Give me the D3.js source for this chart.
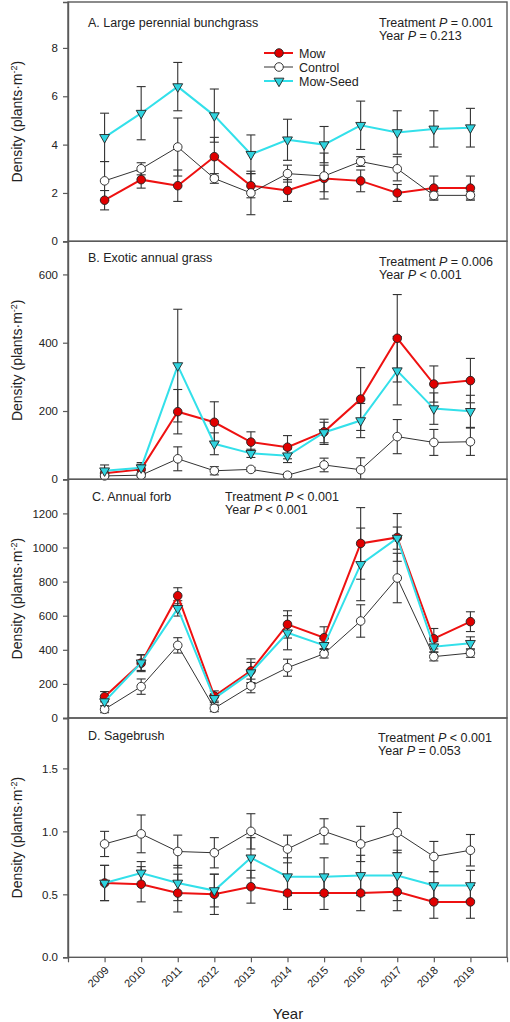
<!DOCTYPE html>
<html><head><meta charset="utf-8">
<script src="https://cdn.jsdelivr.net/npm/d3@7"></script>
<style>body{margin:0;background:#fff}svg{display:block;font-family:"Liberation Sans",Arial,sans-serif}</style>
</head><body><svg id="c" width="510" height="1022"></svg>
<script>
const years = [2009,2010,2011,2012,2013,2014,2015,2016,2017,2018,2019];
const yearTicks = [2008,2009,2010,2011,2012,2013,2014,2015,2016,2017,2018,2019,2020];
const seriesNames = ["Mow","Control","Mow-Seed"];

// Panel A: Large perennial bunchgrass
const aMow = [1.7,2.55,2.3,3.5,2.3,2.1,2.6,2.5,2.0,2.2,2.2];
const aMowSE = [0.4,0.35,0.65,0.8,0.5,0.45,0.55,0.45,0.35,0.5,0.5];
const aCtl = [2.5,3.0,3.9,2.6,2.0,2.8,2.7,3.3,3.0,1.9,1.9];
const aCtlSE = [0.8,0.25,1.2,0.2,0.9,0.35,0.95,0.2,0.5,0.15,0.15];
const aMS = [4.3,5.3,6.4,5.2,3.6,4.2,4.0,4.8,4.5,4.65,4.7];
const aMSSE = [1.0,1.1,1.0,1.1,0.8,0.85,0.75,1.0,0.9,0.75,0.8];
const aTicks = [0,2,4,6,8];

// Panel B: Exotic annual grass
const bMow = [18,29,198,167,109,94,139,235,413,279,289];
const bMowSE = [10,15,65,60,30,34,37,92,128,53,65];
const bCtl = [10,12,60,25,29,12,42,28,125,108,110];
const bCtlSE = [5,5,35,12,6,5,20,35,50,38,40];
const bMS = [25,34,333,104,76,69,137,172,318,207,199];
const bMSSE = [17,15,165,32,12,20,30,50,100,46,47];
const bTicks = [0,200,400,600];

// Panel C: Annual forb
const cMow = [125,322,717,129,277,549,471,1024,1059,465,565];
const cMowSE = [30,50,47,30,70,80,64,210,140,60,58];
const cCtl = [51,184,426,57,188,295,377,569,821,360,381];
const cCtlSE = [20,45,45,20,40,50,25,95,145,25,25];
const cMS = [96,324,643,115,266,500,426,901,1055,418,438];
const cMSSE = [25,45,45,25,60,100,40,213,65,30,38];
const cTicks = [0,200,400,600,800,1000,1200];

// Panel D: Sagebrush
const dMow = [0.59,0.58,0.51,0.50,0.56,0.51,0.51,0.51,0.52,0.44,0.44];
const dMowSE = [0.14,0.14,0.15,0.16,0.13,0.13,0.13,0.14,0.15,0.13,0.13];
const dCtl = [0.90,0.98,0.84,0.83,1.00,0.86,1.00,0.90,0.99,0.80,0.85];
const dCtlSE = [0.10,0.15,0.13,0.12,0.14,0.11,0.10,0.14,0.16,0.12,0.125];
const dMS = [0.59,0.67,0.59,0.53,0.79,0.64,0.64,0.65,0.65,0.57,0.57];
const dMSSE = [0.14,0.09,0.14,0.13,0.16,0.15,0.15,0.16,0.2,0.11,0.12];
const dTicks = [0,0.5,1.0,1.5];

const titles = ["A. Large perennial bunchgrass","B. Exotic annual grass","C. Annual forb","D. Sagebrush"];
const treatP = [["Treatment ","= 0.001"],["Treatment ","= 0.006"],["Treatment ","< 0.001"],["Treatment ","< 0.001"]];
const yearP = [["Year ","= 0.213"],["Year ","< 0.001"],["Year ","< 0.001"],["Year ","= 0.053"]];

const panels = [
  {mow:aMow,mowSE:aMowSE,ctl:aCtl,ctlSE:aCtlSE,ms:aMS,msSE:aMSSE,ticks:aTicks,max:9.9,fmt:d3.format("d")},
  {mow:bMow,mowSE:bMowSE,ctl:bCtl,ctlSE:bCtlSE,ms:bMS,msSE:bMSSE,ticks:bTicks,max:697,fmt:d3.format("d")},
  {mow:cMow,mowSE:cMowSE,ctl:cCtl,ctlSE:cCtlSE,ms:cMS,msSE:cMSSE,ticks:cTicks,max:1400,fmt:d3.format("d")},
  {mow:dMow,mowSE:dMowSE,ctl:dCtl,ctlSE:dCtlSE,ms:dMS,msSE:dMSSE,ticks:dTicks,max:1.9,fmt:d3.format(".1f")}
];
// layout
const L = 68, R = 507;
const bottoms = [241.3, 479.3, 718, 957.3];
const tops = [2, 241.3, 479.3, 718];
const titlePos = [[88,27],[88,262],[92,501],[88,740]];
const statPos = [[379,27],[379,266],[225,501],[378,742]];

const svg = d3.select("#c");
const x = d3.scaleLinear().domain([2008,2020]).range([L,R]);
const gray = "#5a5a5a";
const styles = {
  "Mow":{line:"#ee1111",lw:2,fill:"#e00000",stroke:"#222",shape:"circle"},
  "Control":{line:"#333",lw:1,fill:"#fff",stroke:"#222",shape:"circle"},
  "Mow-Seed":{line:"#33e0ea",lw:2,fill:"#2fd3df",stroke:"#222",shape:"tri"}
};
const circ = d3.symbol().type(d3.symbolCircle).size(58);
const tri = d3.symbol().type(d3.symbolTriangle).size(42);

function drawMarker(g, name, px, py){
  const s = styles[name];
  g.append("path").attr("d", s.shape==="circle"?circ():tri())
    .attr("transform", `translate(${px},${py})` + (s.shape==="tri"?" rotate(180)":""))
    .attr("fill", s.fill).attr("stroke", s.stroke).attr("stroke-width",0.9);
}

panels.forEach((p,i)=>{
  const y = d3.scaleLinear().domain([0,p.max]).range([bottoms[i], tops[i]]);
  const g = svg.append("g");
  // frame
  g.append("rect").attr("x",L).attr("y",tops[i]).attr("width",R-L).attr("height",bottoms[i]-tops[i])
    .attr("fill","none").attr("stroke",gray).attr("stroke-width",1.4);
  // y axis
  const ya = g.append("g").attr("transform",`translate(${L},0)`)
    .call(d3.axisLeft(y).tickValues(p.ticks).tickFormat(p.fmt).tickSize(5).tickPadding(5));
  ya.select(".domain").attr("stroke",gray).attr("stroke-width",1.4);
  ya.selectAll(".tick line").attr("stroke",gray).attr("stroke-width",1.2);
  ya.selectAll(".tick text").attr("font-size",11.5).attr("fill","#222").attr("font-family","Liberation Sans, Arial, sans-serif");
  // y label
  const mid = (tops[i]+bottoms[i])/2;
  const yl = g.append("text").attr("transform",`translate(22,${mid}) rotate(-90)`)
    .attr("text-anchor","middle").attr("font-size",14).attr("fill","#222");
  yl.append("tspan").text("Density (plants·m");
  yl.append("tspan").attr("baseline-shift","super").attr("font-size",9).text("-2");
  yl.append("tspan").text(")");
  // titles
  g.append("text").attr("x",titlePos[i][0]).attr("y",titlePos[i][1]).attr("font-size",12.5).attr("fill","#222").text(titles[i]);
  const t1 = g.append("text").attr("x",statPos[i][0]).attr("y",statPos[i][1]).attr("font-size",12.5).attr("fill","#222");
  t1.append("tspan").text(treatP[i][0]);
  t1.append("tspan").attr("font-style","italic").text("P");
  t1.append("tspan").text(" "+treatP[i][1]);
  const t2 = g.append("text").attr("x",statPos[i][0]).attr("y",statPos[i][1]+12.8).attr("font-size",12.5).attr("fill","#222");
  t2.append("tspan").text(yearP[i][0]);
  t2.append("tspan").attr("font-style","italic").text("P");
  t2.append("tspan").text(" "+yearP[i][1]);

  const series = [["Mow",p.mow,p.mowSE],["Control",p.ctl,p.ctlSE],["Mow-Seed",p.ms,p.msSE]];
  // error bars
  series.forEach(([name,vals,se])=>{
    vals.forEach((v,j)=>{
      const px = x(years[j]);
      const y1 = y(v+se[j]), y2 = y(Math.max(0,v-se[j]));
      g.append("line").attr("x1",px).attr("x2",px).attr("y1",y1).attr("y2",y2).attr("stroke","#333").attr("stroke-width",1.1);
      [y1,y2].forEach(yy=>g.append("line").attr("x1",px-4.5).attr("x2",px+4.5).attr("y1",yy).attr("y2",yy).attr("stroke","#333").attr("stroke-width",1.1));
    });
  });
  // lines + markers
  series.forEach(([name,vals])=>{
    const s = styles[name];
    g.append("path").datum(vals).attr("fill","none").attr("stroke",s.line).attr("stroke-width",s.lw)
      .attr("d", d3.line().x((d,j)=>x(years[j])).y(d=>y(d)));
    vals.forEach((v,j)=>drawMarker(g,name,x(years[j]),y(v)));
  });

  if(i===3){
    const xa = g.append("g").attr("transform",`translate(0,${bottoms[i]})`)
      .call(d3.axisBottom(x).tickValues(yearTicks).tickFormat(d=>years.includes(d)?String(d):"").tickSize(5).tickPadding(4));
    xa.select(".domain").remove();
    xa.selectAll(".tick line").attr("stroke",gray).attr("stroke-width",1.2);
    xa.selectAll(".tick text").attr("font-size",11).attr("fill","#222").attr("font-family","Liberation Sans, Arial, sans-serif")
      .attr("text-anchor","end").attr("x",0).attr("y",0).attr("dy",0).attr("transform","translate(4.5,13.5) rotate(-45)");
  }
});

// legend
const lg = svg.append("g");
seriesNames.forEach((n,k)=>{
  const yy = 53 + k*14;
  const s = styles[n];
  lg.append("line").attr("x1",264).attr("x2",293).attr("y1",yy).attr("y2",yy).attr("stroke",s.line).attr("stroke-width",s.lw);
  drawMarker(lg,n,279,yy);
  lg.append("text").attr("x",299).attr("y",yy+4.5).attr("font-size",12.5).attr("fill","#222").text(n);
});
svg.append("text").attr("x",288).attr("y",1019).attr("text-anchor","middle").attr("font-size",15).attr("fill","#222").text("Year");
</script></body></html>
